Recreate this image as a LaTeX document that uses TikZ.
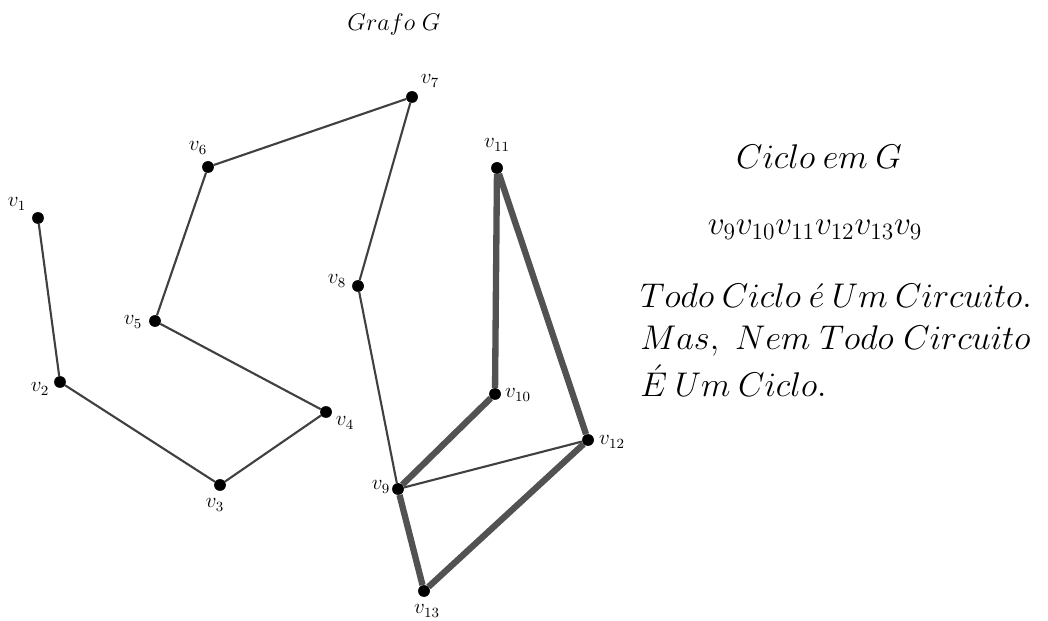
\documentclass[tikz,border=0pt]{standalone}
\usepackage{fix-cm}
\usepackage{amsmath}
\begin{document}
\begin{tikzpicture}[x=0.02cm,y=-0.02cm,
  vtx/.style={circle,fill=black,inner sep=0pt,minimum size=0.23cm},
  lbl/.style={inner sep=0pt,font=\fontsize{12}{14}\selectfont},
  thinedge/.style={draw=black!75,line width=1.2pt},
  thickedge/.style={draw=black!68,line width=3.6pt},
  big/.style={inner sep=0pt,font=\fontsize{19.5}{23}\selectfont}]
\useasboundingbox (0,0) rectangle (1048,621);
% vertices
\node[vtx] (v1) at (38,218) {};
\node[vtx] (v2) at (60,382) {};
\node[vtx] (v3) at (220,485) {};
\node[vtx] (v4) at (326,412) {};
\node[vtx] (v5) at (155,321) {};
\node[vtx] (v6) at (208,167) {};
\node[vtx] (v7) at (412,97) {};
\node[vtx] (v8) at (358,286) {};
\node[vtx] (v9) at (398,489) {};
\node[vtx] (v10) at (495,394) {};
\node[vtx] (v11) at (497,168) {};
\node[vtx] (v12) at (588,440) {};
\node[vtx] (v13) at (424,591) {};
% labels
\node[lbl] (l1) at (17,204) {$v_{1}$};
\node[lbl] (l2) at (40,389) {$v_{2}$};
\node[lbl] (l3) at (215,505) {$v_{3}$};
\node[lbl] (l4) at (345,423) {$v_{4}$};
\node[lbl] (l5) at (133,322) {$v_{5}$};
\node[lbl] (l6) at (198,148) {$v_{6}$};
\node[lbl] (l7) at (430,81) {$v_{7}$};
\node[lbl] (l8) at (337,281) {$v_{8}$};
\node[lbl] (l9) at (381,487) {$v_{9}$};
\node[lbl] (l10) at (518,395) {$v_{10}$};
\node[lbl] (l11) at (497,145) {$v_{11}$};
\node[lbl] (l12) at (612,442) {$v_{12}$};
\node[lbl] (l13) at (427,611) {$v_{13}$};
% edges
\draw[thinedge] (v1) -- (v2);
\draw[thinedge] (v2) -- (v3);
\draw[thinedge] (v3) -- (v4);
\draw[thinedge] (v4) -- (v5);
\draw[thinedge] (v5) -- (v6);
\draw[thinedge] (v6) -- (v7);
\draw[thinedge] (v7) -- (v8);
\draw[thinedge] (v8) -- (v9);
\draw[thinedge] (v9) -- (v12);
\draw[thickedge] (v9) -- (v10);
\draw[thickedge] (v10) -- (v11);
\draw[thickedge] (v11) -- (v12);
\draw[thickedge] (v12) -- (v13);
\draw[thickedge] (v13) -- (v9);
% redraw dots on top
\foreach \n in {v1,v2,v3,v4,v5,v6,v7,v8,v9,v10,v11,v12,v13}
  \fill[black] (\n) circle (0.115cm);
% texts
\node[inner sep=0pt,font=\fontsize{13.7}{16}\selectfont] (title) at (394,24) {$Grafo\;G$};
\node[big] (ciclo) at (819,157) {$Ciclo\:em\:G$};
\node[inner sep=0pt,font=\fontsize{19}{23}\selectfont] (seq) at (815,230) {$v_9v_{10}v_{11}v_{12}v_{13}v_9$};
\node[big,anchor=base west] (t1) at (640,308) {$Todo\:Ciclo\:\acute{e}\:Um\:Circuito.$};
\node[big,anchor=base west] (t2) at (640,350) {$Mas,\ Nem\;Todo\;Circuito$};
\node[big,anchor=base west] (t3) at (640,397) {$\acute{E}\:Um\:Ciclo.$};
\end{tikzpicture}
\end{document}
